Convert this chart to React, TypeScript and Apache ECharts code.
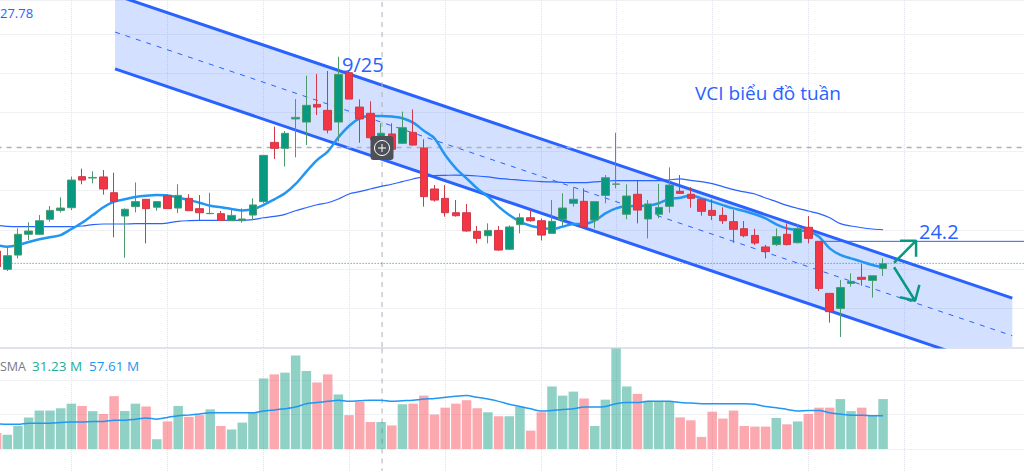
import { useEffect, useRef } from "react";
import * as echarts from "echarts";

// weekly candles: [open, close, low, high]
const candles = [
  [23.64, 22.64, 22.53, 23.92], [22.47, 23.34, 22.36, 23.92], [23.38, 24.71, 23.17, 25.09], [24.71, 24.92, 24.34, 25.48],
  [24.71, 25.58, 24.66, 25.94], [25.67, 26.24, 25.52, 26.52], [26.24, 26.39, 26.11, 27.07], [26.41, 28.18, 26.26, 28.4],
  [28.4, 28.18, 27.91, 28.91], [28.31, 28.35, 27.97, 28.74], [28.38, 27.61, 27.25, 28.82], [27.37, 26.8, 24.52, 28.65],
  [25.88, 26.31, 23.21, 26.37], [26.48, 26.8, 26.11, 28.03], [26.95, 26.35, 24.13, 26.95], [26.44, 26.8, 26.22, 26.8],
  [27.18, 26.35, 26.35, 27.27], [26.39, 27.2, 26.07, 27.91], [27.01, 26.22, 26.22, 27.27], [26.35, 26.09, 25.62, 27.22],
  [26.03, 26.05, 25.99, 27.37], [26.03, 25.6, 25.56, 26.2], [25.58, 25.92, 25.58, 26.37], [25.58, 25.69, 25.45, 26.37],
  [25.94, 26.59, 25.62, 27.01], [26.8, 29.76, 26.69, 29.76], [30.59, 30.21, 29.53, 31.6], [30.21, 31.17, 29.04, 31.32],
  [32.09, 32.19, 29.63, 33.36], [31.89, 32.96, 30.42, 34.86], [33.02, 32.85, 32.34, 34.97], [32.64, 31.38, 31.17, 35.16],
  [31.89, 34.94, 30.64, 36.07], [35.05, 33.36, 33.36, 35.22], [32.85, 32.09, 30.57, 33.34], [32.45, 30.89, 30.74, 33.22],
  [30.85, 31.17, 30.74, 31.81], [31.13, 30.15, 30.15, 31.81], [30.53, 31.53, 30.49, 32.56], [31.23, 30.42, 30.38, 32.7],
  [30.23, 27.12, 26.48, 30.79], [27.61, 26.9, 26.8, 27.86], [27.01, 26.09, 25.84, 27.86], [26.09, 25.9, 25.84, 26.9],
  [26.09, 24.92, 24.88, 26.65], [24.9, 24.45, 24.13, 25.24], [24.62, 24.96, 24.13, 25.41], [24.96, 23.7, 23.66, 25.24],
  [23.75, 25.18, 23.7, 25.28], [25.33, 25.77, 24.77, 26.05], [25.77, 25.58, 25.52, 26.26], [25.58, 24.66, 24.32, 25.73],
  [24.77, 25.54, 24.77, 26.9], [25.67, 26.39, 25.24, 27.33], [26.69, 26.95, 26.48, 27.71], [26.82, 25.2, 25.15, 27.65],
  [25.62, 26.8, 25.09, 26.8], [27.2, 28.33, 26.69, 28.5], [27.91, 27.93, 27.65, 31.21], [25.99, 27.16, 25.67, 27.91],
  [27.27, 26.26, 25.41, 28.12], [25.69, 26.65, 24.45, 26.9], [25.99, 26.43, 25.73, 27.93], [26.5, 27.86, 26.09, 28.99],
  [27.46, 27.33, 27.33, 28.5], [27.27, 27.01, 26.41, 27.72], [26.95, 26.18, 25.9, 26.95], [26.24, 25.92, 25.62, 26.95],
  [25.92, 25.58, 25.37, 26.43], [25.52, 25.03, 24.17, 26.26], [25.07, 24.62, 24.52, 25.56], [24.64, 24.15, 24.03, 25.07],
  [23.9, 23.6, 23.17, 24.03], [24.05, 24.56, 23.96, 25.09], [24.71, 24.05, 24.0, 25.41], [24.17, 25.07, 24.13, 25.37],
  [25.16, 24.45, 24.13, 25.88], [24.26, 21.25, 21.08, 24.26], [20.93, 19.76, 19.06, 20.93], [19.97, 21.3, 18.14, 21.79],
  [21.57, 21.7, 21.36, 22.21], [21.96, 21.83, 21.42, 22.81], [21.76, 22.06, 20.66, 22.06], [22.53, 22.83, 22.04, 23.17],
];

const fastMa = [
  24.02, 23.92, 24.02, 24.22, 24.39, 24.52, 24.66, 25.05, 25.45, 25.94, 26.44, 26.8, 26.95, 27.1, 27.18, 27.22,
  27.2, 27.07, 26.9, 26.73, 26.54, 26.44, 26.33, 26.24, 26.31, 26.59, 26.95, 27.33, 27.93, 28.72, 29.46, 30.0,
  30.91, 31.64, 32.13, 32.28, 32.28, 32.24, 32.13, 31.85, 31.34, 30.85, 29.78, 28.93, 28.29, 27.65, 27.12, 26.48,
  25.94, 25.52, 25.26, 25.13, 25.05, 25.2, 25.37, 25.37, 25.58, 26.05, 26.37, 26.5, 26.52, 26.55, 26.7, 26.97,
  27.05, 27.2, 27.01, 26.8, 26.58, 26.37, 26.2, 25.99, 25.73, 25.35, 25.09, 24.98, 24.88, 24.56, 23.81, 23.39,
  23.17, 22.96, 22.75, 22.58,
];

const slowMa = [
  25.28, 25.22, 25.2, 25.2, 25.2, 25.2, 25.2, 25.2, 25.24, 25.33, 25.37, 25.37, 25.37, 25.39, 25.39, 25.39,
  25.43, 25.54, 25.58, 25.6, 25.6, 25.6, 25.6, 25.6, 25.65, 25.77, 25.86, 25.99, 26.22, 26.41, 26.6, 26.73,
  26.97, 27.29, 27.44, 27.61, 27.78, 27.91, 28.08, 28.25, 28.4, 28.46, 28.48, 28.5, 28.48, 28.44, 28.38, 28.29,
  28.23, 28.18, 28.12, 28.08, 28.06, 28.03, 28.01, 28.01, 28.06, 28.12, 28.14, 28.14, 28.14, 28.14, 28.14, 28.2,
  28.25, 28.16, 28.08, 27.95, 27.76, 27.57, 27.42, 27.29, 27.03, 26.8, 26.56, 26.37, 26.2, 26.03, 25.77, 25.39,
  25.24, 25.13, 25.05, 25.0,
];

// volume in millions
const volumes = [
  28, 25, 40, 55, 67, 67, 71, 79, 75, 66, 61, 92, 66, 79, 74, 17,
  48, 75, 56, 59, 69, 40, 34, 46, 63, 123, 130, 133, 163, 136, 116, 130,
  95, 59, 82, 47, 47, 41, 78, 79, 93, 60, 72, 79, 85, 71, 64, 57,
  57, 74, 32, 64, 109, 93, 100, 88, 40, 86, 175, 109, 96, 84, 82, 83,
  55, 50, 21, 65, 53, 67, 40, 39, 39, 54, 43, 48, 61, 72, 72, 87,
  66, 72, 58, 87,
];

const volumeMa = [
  44, 43, 43, 45, 45, 45, 46, 47, 47, 48, 48, 50, 50, 52, 54, 52,
  55, 58, 59, 61, 63, 63, 63, 63, 63, 66, 68, 70, 73, 79, 81, 83,
  85, 83, 84, 85, 85, 83, 84, 85, 87, 88, 90, 92, 93, 90, 87, 83,
  78, 74, 70, 66, 67, 69, 70, 73, 73, 74, 79, 81, 81, 83, 83, 83,
  81, 80, 79, 79, 79, 79, 79, 78, 74, 72, 69, 66, 67, 67, 63, 61,
  59, 59, 58, 58,
];

const categories = Array.from({ length: 98 }, (_, i) => String(i));
const monthTicks = [7, 16, 25, 33, 42, 51, 58, 67, 76, 85];

// drawings, x in bar index, y in price
const channelX = [11.09, 95.1];
const channelUpper = [40.02, 20.63];
const channelMiddle = [37.65, 18.22];
const channelLower = [35.29, 15.86];
const crossX = 36.09;
const crossPrice = 30.26;
const lastPrice = 22.85;
const targetLevel = 24.26;
const targetStart = 77.1;
const arrowUp = [[84.03, 22.89], [86.09, 24.3], [84.59, 24.3], [86.09, 24.3], [86.09, 23.28]];
const arrowDown = [[84.03, 22.6], [86.0, 20.46], [84.59, 20.68], [86.0, 20.46], [86.4, 21.47]];

const GREEN = "#089981";
const RED = "#f23645";
const BLUE = "#2962ff";
const GRID_LINE = { show: true, lineStyle: { color: "#e0e3eb", width: 1, type: "dotted" as const } };
const FONT = "'Open Sans', sans-serif";

const hiddenAxis = { axisLine: { show: false }, axisTick: { show: false }, axisLabel: { show: false } };

function line(data: number[][], color: string, width: number, type: any, xAxisIndex = 1, yAxisIndex = 0) {
  return {
    type: "line",
    xAxisIndex,
    yAxisIndex,
    data,
    z: 1,
    silent: true,
    showSymbol: false,
    lineStyle: { color, width, type },
  };
}

function label(text: string, x: number, y: number, fontSize: number, fill: string, align = "left") {
  return {
    type: "text",
    z: 100,
    x,
    y,
    style: { text, fontSize, fill, fontFamily: FONT, align, verticalAlign: "middle" },
  };
}

export default function App() {
  const chartRef = useRef<HTMLDivElement>(null);

  useEffect(() => {
    if (!chartRef.current) return;
    const chart = echarts.init(chartRef.current, undefined, { renderer: "svg" });

    chart.setOption({
      animation: false,
      backgroundColor: "#ffffff",
      grid: [
        { left: -3.4, top: 0, width: 1036, height: 347, outerBoundsMode: "none" },
        { left: -3.4, top: 348, width: 1036, height: 135.4, outerBoundsMode: "none" },
      ],
      xAxis: [
        {
          type: "category",
          data: categories,
          boundaryGap: false,
          gridIndex: 0,
          ...hiddenAxis,
          splitLine: { ...GRID_LINE, interval: (i: number) => monthTicks.includes(i) },
        },
        { type: "value", min: 0, max: 97, gridIndex: 0, show: false },
        {
          type: "category",
          data: categories,
          boundaryGap: false,
          gridIndex: 1,
          position: "top",
          axisLine: { show: true, onZero: false, lineStyle: { color: "#e0e3eb", width: 2 } },
          axisTick: { show: false },
          axisLabel: { show: false },
          splitLine: { ...GRID_LINE, interval: (i: number) => monthTicks.includes(i) },
        },
        { type: "value", min: 0, max: 97, gridIndex: 1, show: false },
      ],
      yAxis: [
        { type: "value", min: 17.5, max: 39.7, interval: 2.5, gridIndex: 0, ...hiddenAxis, splitLine: GRID_LINE },
        { type: "value", min: -60, max: 176, interval: 60, gridIndex: 1, ...hiddenAxis, splitLine: GRID_LINE },
      ],
      graphic: [
        label("27.78", 0, 13, 13, BLUE),
        label("9/25", 342, 64, 20, BLUE),
        label("VCI biểu đồ tuần", 695, 93, 19, BLUE),
        label("24.2", 919, 231, 20, BLUE),
        label("SMA", 0, 366, 12.5, "#787b86"),
        label("31.23 M", 32, 366, 13.5, "#22ab94"),
        label("57.61 M", 89, 366, 13.5, "#2196f3"),
        // crosshair magnifier button
        { type: "rect", z: 100, shape: { x: 370.5, y: 136, width: 23, height: 24, r: 3 }, style: { fill: "#4e5058" } },
        { type: "circle", z: 101, shape: { cx: 382, cy: 148, r: 7.5 }, style: { fill: "none", stroke: "#ffffff", lineWidth: 1 } },
        { type: "line", z: 101, shape: { x1: 378, y1: 148, x2: 386, y2: 148 }, style: { stroke: "#ffffff", lineWidth: 1 } },
        { type: "line", z: 101, shape: { x1: 382, y1: 144, x2: 382, y2: 152 }, style: { stroke: "#ffffff", lineWidth: 1 } },
      ],
      series: [
        {
          type: "custom",
          xAxisIndex: 1,
          yAxisIndex: 0,
          z: 0,
          clip: true,
          silent: true,
          data: [[channelX[0], channelUpper[0]]],
          encode: { x: 0, y: 1 },
          renderItem: (_params: unknown, api: any) => ({
            type: "polygon",
            shape: {
              points: [
                api.coord([channelX[0], channelUpper[0]]),
                api.coord([channelX[1], channelUpper[1]]),
                api.coord([channelX[1], channelLower[1]]),
                api.coord([channelX[0], channelLower[0]]),
              ],
            },
            style: { fill: "rgba(41, 98, 255, 0.2)" },
          }),
        },
        line([[channelX[0], channelUpper[0]], [channelX[1], channelUpper[1]]], BLUE, 3, "solid"),
        line([[channelX[0], channelLower[0]], [channelX[1], channelLower[1]]], BLUE, 3, "solid"),
        line([[channelX[0], channelMiddle[0]], [channelX[1], channelMiddle[1]]], BLUE, 1, [5, 6]),
        line([[0, crossPrice], [97, crossPrice]], "#aeb0b6", 1.5, [5, 5]),
        line([[crossX, 17.5], [crossX, 39.7]], "#aeb0b6", 1, [5, 5]),
        line([[crossX, -60], [crossX, 176]], "#aeb0b6", 1, [5, 5], 3, 1),
        line([[0, lastPrice], [97, lastPrice]], GREEN, 1, [1, 2]),
        line([[targetStart, targetLevel], [97, targetLevel]], BLUE, 1, "solid"),
        line(arrowUp, GREEN, 2.5, "solid"),
        line(arrowDown, GREEN, 2.5, "solid"),
        {
          type: "line",
          xAxisIndex: 0,
          yAxisIndex: 0,
          data: slowMa,
          z: 1,
          smooth: 0.3,
          showSymbol: false,
          lineStyle: { color: BLUE, width: 1.2 },
        },
        {
          type: "line",
          xAxisIndex: 0,
          yAxisIndex: 0,
          data: fastMa,
          z: 1,
          smooth: 0.3,
          showSymbol: false,
          lineStyle: { color: "#2196f3", width: 2.5 },
        },
        {
          type: "candlestick",
          xAxisIndex: 0,
          yAxisIndex: 0,
          data: candles,
          z: 3,
          barWidth: 8,
          itemStyle: {
            color: GREEN,
            color0: RED,
            borderColor: "#4e9a6e",
            borderColor0: "#cf3a49",
            borderWidth: 1,
          },
        },
        {
          type: "bar",
          xAxisIndex: 2,
          yAxisIndex: 1,
          barWidth: 9.5,
          z: 2,
          data: volumes.map((value, i) => ({
            value,
            itemStyle: {
              color: candles[i][1] >= candles[i][0] ? "rgba(8, 153, 129, 0.45)" : "rgba(247, 82, 95, 0.5)",
            },
          })),
        },
        {
          type: "line",
          xAxisIndex: 2,
          yAxisIndex: 1,
          data: volumeMa,
          z: 3,
          smooth: 0.3,
          showSymbol: false,
          lineStyle: { color: "#2196f3", width: 1.5 },
        },
      ],
    });

    return () => chart.dispose();
  }, []);

  return <div ref={chartRef} style={{ position: "fixed", left: 0, top: 0, width: 1024, height: 471 }} />;
}
